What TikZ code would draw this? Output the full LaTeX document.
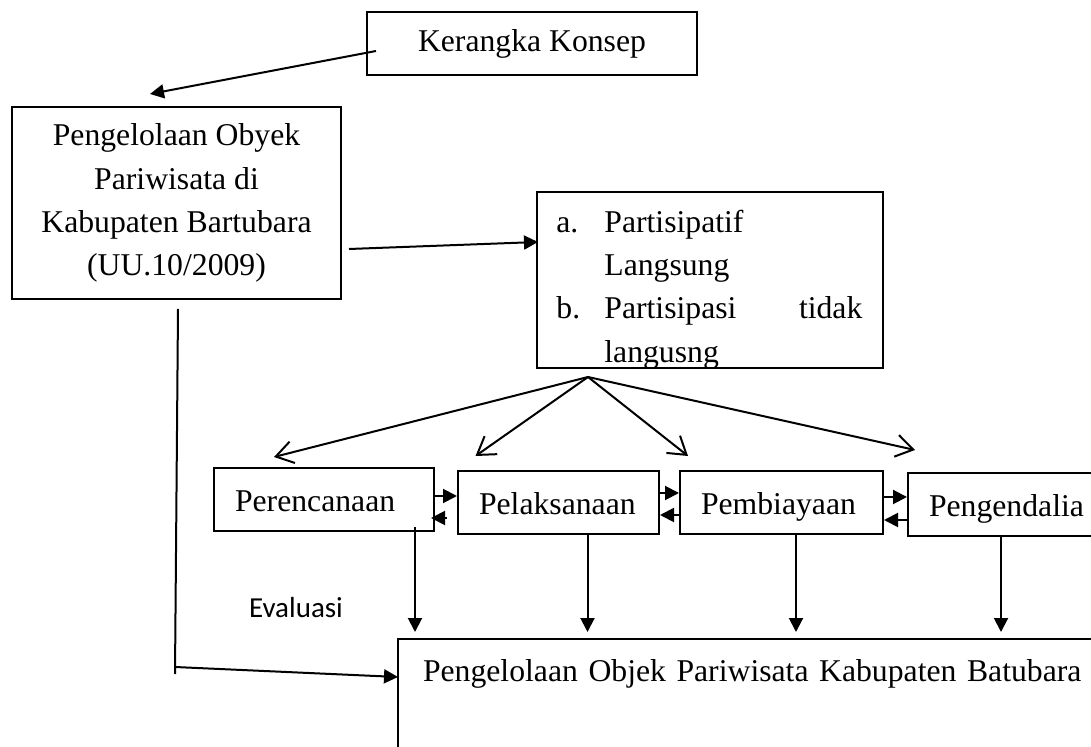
\documentclass[tikz,border=0pt]{standalone}
\usepackage{fontspec}
\setmainfont{Liberation Serif}
\newfontfamily\evalfont{Carlito}
\usepackage{tikz}
\usetikzlibrary{arrows.meta, positioning}

\begin{document}
\begin{tikzpicture}[
    x=0.5pt, y=-0.5pt,
    font=\fontsize{15.85}{21.6}\selectfont,
    box/.style={rectangle, draw, line width=1pt, inner sep=0pt, align=center},
    cell/.style={box, minimum height=31.5pt, inner xsep=10.5pt, text height=14pt, text depth=2pt, align=left},
    arrow/.style={-{Triangle[length=7pt, width=7pt]}, line width=1pt},
    openarrow/.style={-{Straight Barb[length=8.5pt, width=11pt]}, line width=1pt},
    link/.style={line width=1pt}
]
\clip (0,0) rectangle (1091,747);

% Top: concept and object
\node[cell, align=center, minimum width=165pt, text height=12pt, text depth=3.5pt] (konsep) at (532,43.5) {Kerangka Konsep};
\node[box, minimum width=164.5pt, minimum height=96pt] (obyek) at (176.5,203) {Pengelolaan Obyek\\Pariwisata di\\Kabupaten Bartubara\\(UU.10/2009)};
\node[box, minimum width=173pt, minimum height=88pt] (partisipasi) at (710,280) {};
\begin{scope}
\clip (partisipasi.south west) rectangle (partisipasi.north east);
\node[anchor=base west, inner sep=0pt] (bentuk) at ([xshift=10pt, yshift=-20.75pt]partisipasi.north west)
  {\begin{tabular}[t]{@{}p{24pt}@{}l@{}}
   a. & Partisipatif\\
      & Langsung\\
   b. & \hbox to 129pt{Partisipasi\hfill tidak}\\
      & langusng
   \end{tabular}};
\end{scope}

% Middle row: management functions
\node[cell, text width=89pt] (rencana) at (324,499.5) {Perencanaan};
\node[cell, text width=79.5pt, right=11pt of rencana, yshift=-1.5pt] (laksana) {Pelaksanaan};
\node[cell, text width=80.5pt, right=9.5pt of laksana] (biaya) {Pembiayaan};
\node[cell, text width=89pt, right=11.5pt of biaya, yshift=-1pt] (kendali) {Pengendalia};

% Bottom: result
\node[box, anchor=north west, inner xsep=12.5pt, inner ysep=5pt, text width=340pt, text height=16pt, text depth=60pt, align=left] (hasil) at (397,638) {Pengelolaan Objek Pariwisata Kabupaten Batubara};
\node[font=\evalfont\fontsize{14.5}{17}\selectfont, inner sep=0pt] (evaluasi) at (296,608) {Evaluasi};

% Connections
\draw[arrow] ([xshift=5pt, yshift=-3.75pt]konsep.west) -- ([xshift=-13.25pt, yshift=6pt]obyek.north);
\draw[arrow] ([xshift=3.5pt, yshift=-23pt]obyek.east) -- ([xshift=1pt, yshift=19pt]partisipasi.west);

% Fan out from participation
\coordinate (fan) at ([xshift=-61pt, yshift=-4pt]partisipasi.south);
\draw[openarrow] (fan) -- ([xshift=-25pt, yshift=5pt]rencana.north);
\draw[openarrow] (fan) -- ([xshift=-41.5pt, yshift=7pt]laksana.north);
\draw[openarrow] (fan) -- ([xshift=-46.75pt, yshift=7pt]biaya.north);
\draw[openarrow] (fan) -- ([xshift=-51.5pt, yshift=11pt]kendali.north);

% Back and forth in the row
\draw[arrow] ([yshift=1.75pt]rencana.east) -- ([yshift=1.75pt]rencana.east -| laksana.west);
\draw[arrow, shorten <=5pt, shorten >=-2pt] ([yshift=-7.75pt]laksana.west) -- ([yshift=-7.75pt]laksana.west -| rencana.east);
\draw[arrow] ([yshift=4.75pt]laksana.east) -- ([yshift=4.75pt]laksana.east -| biaya.west);
\draw[arrow] ([yshift=-6.25pt]biaya.west) -- ([yshift=-6.25pt]biaya.west -| laksana.east);
\draw[arrow] ([yshift=2.75pt]biaya.east) -- ([yshift=2.75pt]biaya.east -| kendali.west);
\draw[arrow] ([yshift=-7.75pt]kendali.west) -- ([yshift=-7.75pt]kendali.west -| biaya.east);

% Down to the result
\coordinate (d1) at ([xshift=45.5pt, yshift=2.5pt]rencana.south);
\coordinate (d2) at ([xshift=14.5pt]laksana.south);
\coordinate (d3) at ([xshift=7.25pt]biaya.south);
\coordinate (d4) at ([xshift=-8.5pt]kendali.south);
\draw[arrow, shorten >=3pt] (d1) -- (d1 |- hasil.north);
\draw[arrow, shorten >=3pt] (d2) -- (d2 |- hasil.north);
\draw[arrow, shorten >=3pt] (d3) -- (d3 |- hasil.north);
\draw[arrow, shorten >=3pt] (d4) -- (d4 |- hasil.north);

% Evaluation loop
\coordinate (tail) at (175,674);
\coordinate (elbow) at (175,667);
\draw[link] ([xshift=0.75pt, yshift=-4.5pt]obyek.south) -- (tail);
\draw[arrow] (elbow) -- ([xshift=0.5pt, yshift=-19.5pt]hasil.north west);

\end{tikzpicture}
\end{document}
